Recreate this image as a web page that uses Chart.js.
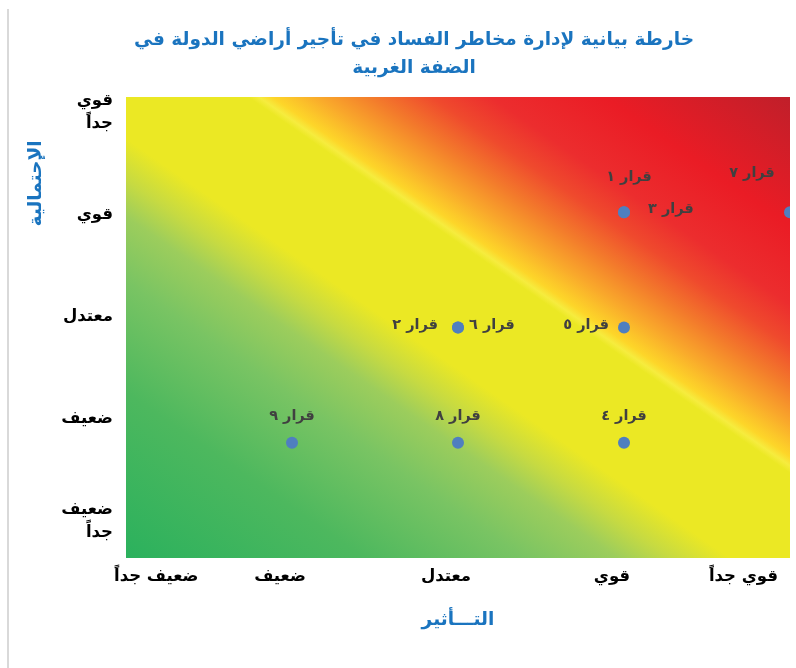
<!DOCTYPE html>
<html>
<head>
<meta charset="utf-8">
<script src="https://cdn.jsdelivr.net/npm/chart.js@4.4.1/dist/chart.umd.min.js"></script>
<style>
  html, body { margin: 0; padding: 0; background: #ffffff; }
  #wrap { width: 796px; height: 668px; position: relative; }
</style>
</head>
<body>
<div id="wrap"><canvas id="riskMap" width="796" height="668" dir="rtl"></canvas></div>
<script>
// Rating levels shared by both axes (0 = very weak ... 4 = very strong)
const levelLabels = ['ضعيف جداً', 'ضعيف', 'معتدل', 'قوي', 'قوي جداً'];

// Decisions plotted on the map
const decisions = ['قرار ١', 'قرار ٢', 'قرار ٣', 'قرار ٤', 'قرار ٥', 'قرار ٦', 'قرار ٧', 'قرار ٨', 'قرار ٩'];
const impact = [3, 2, 3, 3, 3, 2, 4, 2, 1];       // التأثير
const likelihood = [3, 2, 3, 1, 2, 2, 3, 1, 1];   // الاحتمالية

const titleLines = ['خارطة بيانية لإدارة مخاطر الفساد في تأجير أراضي الدولة في', 'الضفة الغربية'];
const xTitle = 'التـــأثير';
const yTitle = 'الإحتمالية';

const FONT = "'DejaVu Sans', sans-serif";
const BLUE = '#1a74bf';

// Label placement around each point: text alignment and offset in pixels
const labelPlacement = [
  { align: 'center', dx: 5, dy: -35 },
  { align: 'right', dx: -20, dy: -2 },
  { align: 'left', dx: 24, dy: -3 },
  { align: 'center', dx: 0, dy: -27 },
  { align: 'right', dx: -15, dy: -2 },
  { align: 'left', dx: 11, dy: -2 },
  { align: 'center', dx: -38, dy: -39 },
  { align: 'center', dx: 0, dy: -27 },
  { align: 'center', dx: 0, dy: -27 }
];

// Diagonal green -> yellow -> red background of the plot area
const heatBackground = {
  id: 'heatBackground',
  beforeDraw(chart) {
    const { ctx, chartArea: a } = chart;
    ctx.save();
    // thin grey page rule on the left
    ctx.fillStyle = '#d9d9d9';
    ctx.fillRect(7, 9, 2, chart.height - 9);

    const W = a.right - a.left, H = a.bottom - a.top;
    const D2 = W * W + H * H;
    const k = 2 * W * H / D2;
    const g = ctx.createLinearGradient(a.left, a.bottom, a.left + H * k, a.bottom - W * k);
    g.addColorStop(0.00, '#2bb15d');
    g.addColorStop(0.18, '#4db85e');
    g.addColorStop(0.30, '#79c463');
    g.addColorStop(0.37, '#9ccd5c');
    g.addColorStop(0.41, '#c6da42');
    g.addColorStop(0.455, '#ebe824');
    g.addColorStop(0.592, '#ebe824');
    g.addColorStop(0.600, '#f6ec3e');
    g.addColorStop(0.610, '#fdd629');
    g.addColorStop(0.645, '#f9a92b');
    g.addColorStop(0.685, '#f37b2b');
    g.addColorStop(0.730, '#ef4a2d');
    g.addColorStop(0.775, '#ec2d2e');
    g.addColorStop(0.860, '#ea1c25');
    g.addColorStop(1.00, '#c01f2a');
    ctx.fillStyle = g;
    ctx.fillRect(a.left, a.top, W, H);
    ctx.restore();
  }
};

// Chart title, rotated likelihood title and the decision labels
const textLayer = {
  id: 'textLayer',
  afterDatasetsDraw(chart) {
    const { ctx, scales } = chart;
    ctx.save();
    ctx.direction = 'rtl';

    // chart title
    ctx.fillStyle = BLUE;
    ctx.font = `bold 18.5px ${FONT}`;
    ctx.textAlign = 'center';
    ctx.textBaseline = 'middle';
    titleLines.forEach((t, i) => ctx.fillText(t, 414, 40 + i * 28));

    // likelihood axis title
    ctx.save();
    ctx.translate(36, scales.y.getPixelForValue(3.25));
    ctx.rotate(-Math.PI / 2);
    ctx.fillText(yTitle, 0, 0);
    ctx.restore();

    // decision labels
    const meta = chart.getDatasetMeta(0);
    ctx.font = `bold 14.5px ${FONT}`;
    ctx.fillStyle = '#404040';
    meta.data.forEach((pt, i) => {
      const p = labelPlacement[i];
      ctx.textAlign = p.align;
      ctx.fillText(decisions[i], pt.x + p.dx, pt.y + p.dy);
    });
    ctx.restore();
  }
};

new Chart(document.getElementById('riskMap'), {
  type: 'scatter',
  data: {
    datasets: [{
      label: 'القرارات',
      data: decisions.map((d, i) => ({ x: impact[i], y: likelihood[i] })),
      backgroundColor: '#4f7fc0',
      borderWidth: 0,
      pointRadius: 6,
      pointHoverRadius: 6
    }]
  },
  options: {
    responsive: false,
    animation: false,
    devicePixelRatio: 1,
    layout: { padding: { top: 97, left: 8, right: 5, bottom: 0 } },
    plugins: {
      legend: { display: false },
      title: { display: false },
      tooltip: { enabled: false }
    },
    scales: {
      x: {
        type: 'linear',
        min: 0,
        max: 4,
        grid: { display: false, drawTicks: false },
        border: { display: false },
        afterBuildTicks: s => { s.ticks = levelLabels.map((l, i) => ({ value: i })); },
        afterFit: s => { s.height = 110; s.paddingLeft = 0; s.paddingRight = 0; },
        ticks: {
          stepSize: 1,
          autoSkip: false,
          maxRotation: 0,
          align: 'inner',
          labelOffset: -12,
          padding: 9,
          color: '#000000',
          font: { family: FONT, size: 16.5, weight: 'bold' },
          callback: v => levelLabels[v]
        },
        title: {
          display: true,
          text: xTitle,
          color: BLUE,
          font: { family: FONT, size: 18.5, weight: 'bold' },
          padding: { top: 0, bottom: 37 }
        }
      },
      y: {
        type: 'linear',
        min: 0,
        max: 4,
        display: false
      },
      yLab: {
        axis: 'y',
        type: 'linear',
        position: 'left',
        min: -0.36,
        max: 4.15,
        grid: { display: false, drawTicks: false },
        border: { display: false },
        afterBuildTicks: s => { s.ticks = levelLabels.map((l, i) => ({ value: i })); },
        afterFit: s => { s.width = 118; },
        ticks: {
          autoSkip: false,
          padding: 13,
          color: '#000000',
          font: { family: FONT, size: 16.5, weight: 'bold', lineHeight: 1.4 },
          callback: v => levelLabels[v].split(' ')
        }
      }
    }
  },
  plugins: [heatBackground, textLayer]
});
</script>
</body>
</html>
